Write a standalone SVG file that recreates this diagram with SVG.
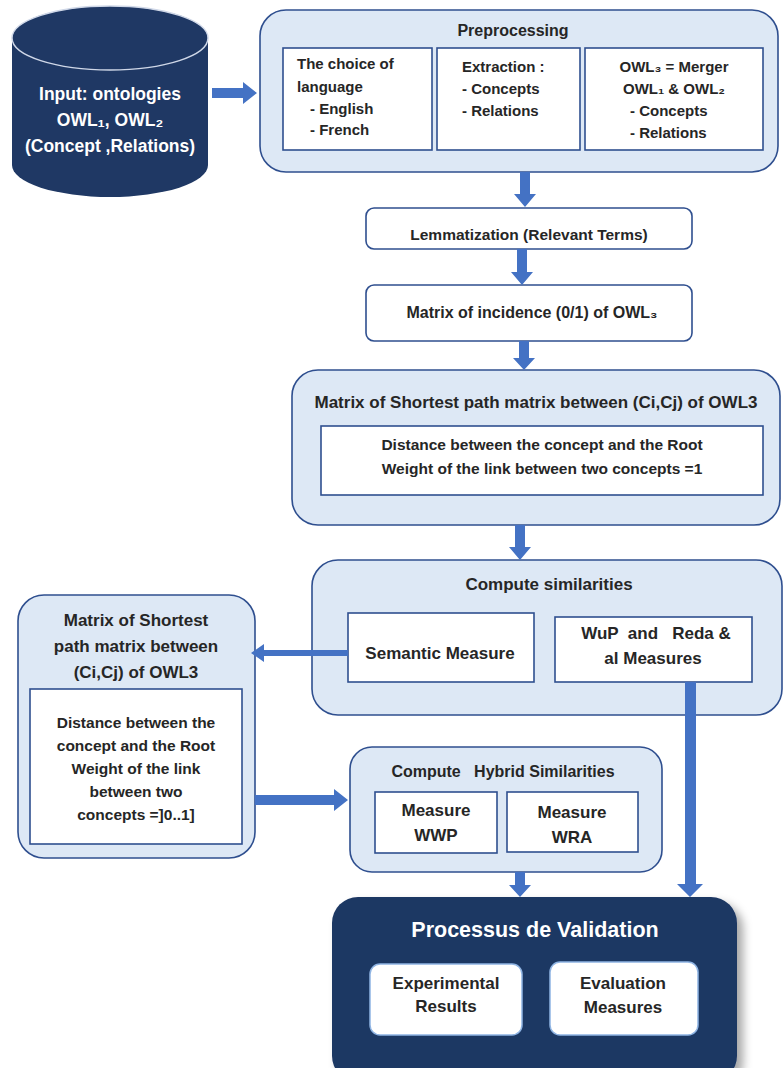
<svg xmlns="http://www.w3.org/2000/svg" width="784" height="1068" viewBox="0 0 784 1068">
<defs>
<style>
.grp{fill:#dde8f5;stroke:#2f4f8f;stroke-width:1.6}
.box{fill:#fff;stroke:#2f4f8f;stroke-width:1.6}
.t{font-family:"Liberation Sans",Arial,sans-serif;font-weight:bold;fill:#262626}
.c{text-anchor:middle}
.w{fill:#fff}
.pre{white-space:pre}
.s15{font-size:15px}
.s155{font-size:15.5px}
.s16{font-size:16px}
.s17{font-size:17px}
.s18{font-size:17.5px}
.s21{font-size:21.5px}
.arr{fill:#4472c4}
</style>
<filter id="sh" x="-10%" y="-10%" width="130%" height="130%">
<feDropShadow dx="6" dy="6" stdDeviation="5" flood-color="#000" flood-opacity="0.35"/>
</filter>
</defs>
<rect width="784" height="1068" fill="#fff"/>

<g id="input">
<path d="M12,38 L12,165 A98,32 0 0 0 208,165 L208,38 Z" fill="#1f3864"/>
<ellipse cx="110" cy="38" rx="98" ry="32" fill="#1f3864" stroke="#d0d8e8" stroke-width="1.5"/>
<text class="t c w s18" x="110" y="100">Input: ontologies</text>
<text class="t c w s18" x="110" y="126">OWL₁, OWL₂</text>
<text class="t c w s18" x="110" y="152">(Concept ,Relations)</text>
</g>

<g id="preprocessing">
<rect class="grp" x="260" y="10" width="518" height="162" rx="26"/>
<text class="t c s16" x="513" y="36">Preprocessing</text>
<rect class="box" x="283" y="48" width="149" height="102"/>
<text class="t s15" x="297" y="69">The choice of</text>
<text class="t s15" x="297" y="92">language</text>
<text class="t s15" x="310" y="114">- English</text>
<text class="t s15" x="310" y="135">- French</text>
<rect class="box" x="437" y="48" width="143" height="102"/>
<text class="t s15" x="462" y="72">Extraction :</text>
<text class="t s15" x="462" y="94">- Concepts</text>
<text class="t s15" x="462" y="116">- Relations</text>
<rect class="box" x="585" y="48" width="178" height="102"/>
<text class="t c s15" x="674" y="72">OWL₃ = Merger</text>
<text class="t c s15" x="674" y="94">OWL₁ &amp; OWL₂</text>
<text class="t s15" x="630" y="116">- Concepts</text>
<text class="t s15" x="630" y="138">- Relations</text>
</g>

<g id="lemmatization">
<rect class="box" x="366" y="208" width="326" height="41" rx="8"/>
<text class="t c s155" x="529" y="240">Lemmatization (Relevant Terms)</text>
</g>

<g id="incidence">
<rect class="box" x="366" y="285" width="326" height="56" rx="8"/>
<text class="t c s16" x="532" y="318">Matrix of incidence (0/1) of OWL₃</text>
</g>

<g id="shortest1">
<rect class="grp" x="292" y="370" width="488" height="155" rx="26"/>
<text class="t c s17" x="536" y="408">Matrix of Shortest path matrix between (Ci,Cj) of OWL3</text>
<rect class="box" x="321" y="426" width="442" height="69"/>
<text class="t c s155" x="542" y="450">Distance between the concept and the Root</text>
<text class="t c s155" x="542" y="474">Weight of the link between two concepts =1</text>
</g>

<g id="compute">
<rect class="grp" x="312" y="560" width="470" height="155" rx="26"/>
<text class="t c s17" x="549" y="590">Compute similarities</text>
<rect class="box" x="348" y="613" width="186" height="69"/>
<text class="t c s17" x="440" y="659">Semantic Measure</text>
<rect class="box" x="555" y="617" width="197" height="65"/>
<text class="t c s17 pre" x="656" y="639" xml:space="preserve">WuP  and   Reda &amp;</text>
<text class="t c s17" x="653" y="664">al Measures</text>
</g>

<g id="shortest2">
<rect class="grp" x="18" y="595" width="237" height="263" rx="26"/>
<text class="t c s17" x="136" y="626">Matrix of Shortest</text>
<text class="t c s17" x="136" y="652">path matrix between</text>
<text class="t c s17" x="136" y="678">(Ci,Cj) of OWL3</text>
<rect class="box" x="30" y="689" width="212" height="155"/>
<text class="t c s155" x="136" y="728">Distance between the</text>
<text class="t c s155" x="136" y="751">concept and the Root</text>
<text class="t c s155" x="136" y="774">Weight of the link</text>
<text class="t c s155" x="136" y="797">between two</text>
<text class="t c s155" x="136" y="820">concepts =]0..1]</text>
</g>

<g id="hybrid">
<rect class="grp" x="350" y="747" width="312" height="125" rx="22"/>
<text class="t c s16 pre" x="503" y="777" xml:space="preserve">Compute   Hybrid Similarities</text>
<rect class="box" x="375" y="792" width="122" height="61"/>
<text class="t c s17" x="436" y="816">Measure</text>
<text class="t c s17" x="436" y="841">WWP</text>
<rect class="box" x="507" y="792" width="131" height="60"/>
<text class="t c s17" x="572" y="818">Measure</text>
<text class="t c s17" x="572" y="843">WRA</text>
</g>

<g id="validation">
<rect x="332" y="897" width="405" height="185" rx="26" fill="#1f3864" filter="url(#sh)"/>
<text class="t c w s21" x="535" y="937">Processus de Validation</text>
<rect x="370" y="964" width="152" height="71" rx="10" fill="#fff" stroke="#8fb4e3" stroke-width="1.5"/>
<text class="t c s17" x="446" y="989">Experimental</text>
<text class="t c s17" x="446" y="1012">Results</text>
<rect x="550" y="962" width="148" height="73" rx="10" fill="#fff" stroke="#8fb4e3" stroke-width="1.5"/>
<text class="t c s17" x="623" y="989">Evaluation</text>
<text class="t c s17" x="623" y="1013">Measures</text>
</g>

<g id="connectors">
<polygon class="arr" points="212,88 243,88 243,82 257,93 243,104 243,98 212,98"/>
<polygon class="arr" points="520,172 530,172 530,194 536,194 525,207 514,194 520,194"/>
<polygon class="arr" points="517,249 527,249 527,272 533,272 522,285 511,272 517,272"/>
<polygon class="arr" points="519,341 529,341 529,358 535,358 524,370 513,358 519,358"/>
<polygon class="arr" points="515,525 525,525 525,547 531,547 520,560 509,547 515,547"/>
<polygon class="arr" points="348,650 264,650 264,644 251,653 264,662 264,656 348,656"/>
<polygon class="arr" points="255,795 334,795 334,789 348,800 334,811 334,805 255,805"/>
<polygon class="arr" points="685,682 696,682 696,884 703,884 690,897 677,884 685,884"/>
<polygon class="arr" points="515,872 525,872 525,885 531,885 520,897 509,885 515,885"/>
</g>
</svg>
